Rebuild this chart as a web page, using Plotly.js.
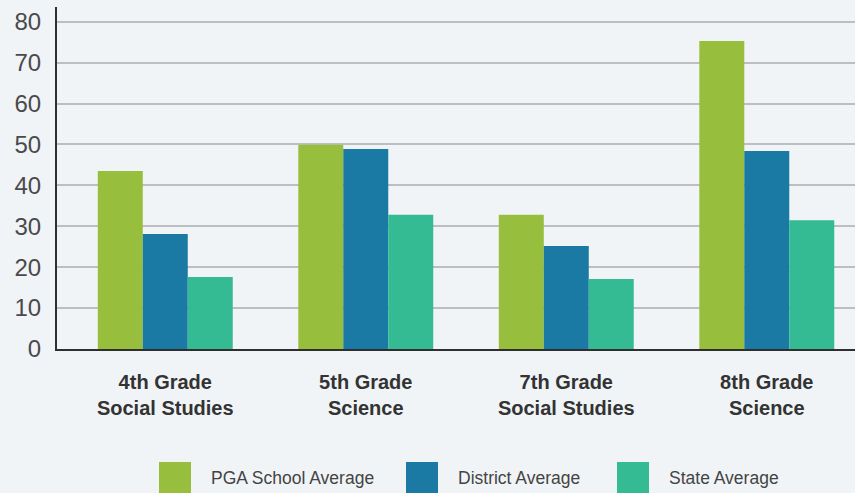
<!DOCTYPE html>
<html>
<head>
<meta charset="utf-8">
<script src="https://cdn.plot.ly/plotly-3.0.1.min.js"></script>
<style>
html,body{margin:0;padding:0;background:#f0f4f7;}
#chart{width:855px;height:493px;}
</style>
</head>
<body>
<div id="chart"></div>
<script>
const categories = ["4th Grade<br>Social Studies", "5th Grade<br>Science", "7th Grade<br>Social Studies", "8th Grade<br>Science"];
const seriesNames = ["PGA School Average", "District Average", "State Average"];
const pgaValues = [43.5, 49.9, 32.8, 75.3];
const districtValues = [28.1, 48.9, 25.2, 48.4];
const stateValues = [17.6, 32.8, 17.1, 31.5];
const yTicks = [0, 10, 20, 30, 40, 50, 60, 70, 80];
const colors = ["#97bf3d", "#1a7aa3", "#34bb93"];

const allValues = [pgaValues, districtValues, stateValues];
const traces = allValues.map((vals, i) => ({
  type: "bar",
  x: categories,
  y: vals,
  name: seriesNames[i],
  marker: {color: colors[i], line: {width: 0}},
  hoverinfo: "y+name"
}));

// Plot area in pixels: x 57..855, y 7..349
const L = 57, W = 798, T = 7, H = 342;
const px = v => (v - L) / W;
const py = v => (T + H - v) / H;

const legendSwatchX = [159, 406, 617];
const legendTextX = [209, 456, 667];
const shapes = [];
const annotations = [];
seriesNames.forEach((n, i) => {
  shapes.push({
    type: "rect", xref: "paper", yref: "paper",
    x0: px(legendSwatchX[i]), x1: px(legendSwatchX[i] + 32),
    y0: py(462), y1: py(494),
    fillcolor: colors[i], line: {width: 0}
  });
  annotations.push({
    xref: "paper", yref: "paper",
    x: px(legendTextX[i]), y: py(478),
    xanchor: "left", yanchor: "middle",
    text: n, showarrow: false,
    font: {family: "Liberation Sans, Arial, sans-serif", size: 17.5, color: "#444"}
  });
});

const layout = {
  width: 855, height: 493,
  margin: {l: L, r: 0, t: T, b: 144, pad: 0},
  paper_bgcolor: "#f0f4f7",
  plot_bgcolor: "#f0f4f7",
  showlegend: false,
  barmode: "group",
  bargap: 0.327,
  bargroupgap: 0,
  xaxis: {
    type: "category",
    range: [-0.54, 3.44],
    showgrid: false,
    showline: true, linecolor: "#2f2f2f", linewidth: 2,
    ticks: "",
    ticklabelstandoff: 14,
    tickfont: {family: "Liberation Sans, Arial, sans-serif", size: 20, color: "#333", weight: "bold"}
  },
  yaxis: {
    range: [0, 83.6],
    tickvals: yTicks,
    ticktext: yTicks.map(String),
    showgrid: true, gridcolor: "#bcbec2", gridwidth: 2,
    zeroline: false,
    showline: true, linecolor: "#2f2f2f", linewidth: 2,
    ticks: "",
    ticklabelstandoff: 9,
    tickfont: {family: "Liberation Sans, Arial, sans-serif", size: 24, color: "#4a4a4a"}
  },
  shapes: shapes,
  annotations: annotations
};

Plotly.newPlot("chart", traces, layout, {displayModeBar: false, staticPlot: true});
</script>
</body>
</html>
